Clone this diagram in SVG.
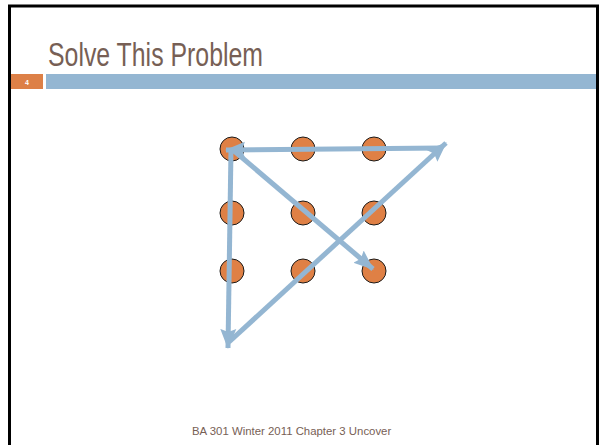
<svg xmlns="http://www.w3.org/2000/svg" width="603" height="445" viewBox="0 0 603 445">
<defs>
<style>
.dot{fill:#DF8045;stroke:#1a1a1a;stroke-width:1}
.arr{stroke:#94B6D2;stroke-width:5;fill:none;marker-end:url(#ah)}
.title{font-family:"Liberation Sans",Arial,sans-serif;font-size:33px;fill:#775F55}
.foot{font-family:"Liberation Sans",Arial,sans-serif;font-size:11.4px;fill:#776055}
</style>
<marker id="ah" markerUnits="userSpaceOnUse" markerWidth="22" markerHeight="22" viewBox="0 0 22 22" refX="19" refY="11" orient="auto">
<path d="M0,3 L20,11 L0,19 L3,11 Z" fill="#94B6D2"/>
</marker>
</defs>
<rect x="0" y="0" width="603" height="445" fill="#fff"/>
<rect x="9.5" y="6" width="588" height="460" fill="#fff" stroke="#000" stroke-width="3"/>
<text class="title" x="48" y="66" textLength="215" lengthAdjust="spacingAndGlyphs">Solve This Problem</text>
<rect x="11" y="74" width="32" height="15" fill="#DD8047"/>
<text x="25" y="85" font-family="Liberation Sans,Arial,sans-serif" font-size="7" font-weight="bold" fill="#fff">4</text>
<rect x="46" y="74" width="550" height="15" fill="#94B6D2"/>
<g id="dots">
<g id="d1"><circle class="dot" cx="232" cy="149" r="12"/></g>
<g id="d2"><circle class="dot" cx="303" cy="149" r="12"/></g>
<g id="d3"><circle class="dot" cx="374" cy="149" r="12"/></g>
<g id="d4"><circle class="dot" cx="232" cy="213" r="12"/></g>
<g id="d5"><circle class="dot" cx="303" cy="213" r="12"/></g>
<g id="d6"><circle class="dot" cx="374" cy="213" r="12"/></g>
<g id="d7"><circle class="dot" cx="232" cy="271" r="12"/></g>
<g id="d8"><circle class="dot" cx="303" cy="271" r="12"/></g>
<g id="d9"><circle class="dot" cx="374" cy="271" r="12"/></g>
</g>
<g id="connectors">
<line class="arr" x1="231" y1="149" x2="228" y2="348"/>
<line class="arr" x1="229" y1="342" x2="446" y2="143"/>
<line class="arr" x1="442" y1="148" x2="226" y2="150"/>
<line class="arr" x1="233" y1="150" x2="373" y2="269"/>
</g>
<text class="foot" x="192" y="435">BA 301 Winter 2011 Chapter 3 Uncover</text>
</svg>
